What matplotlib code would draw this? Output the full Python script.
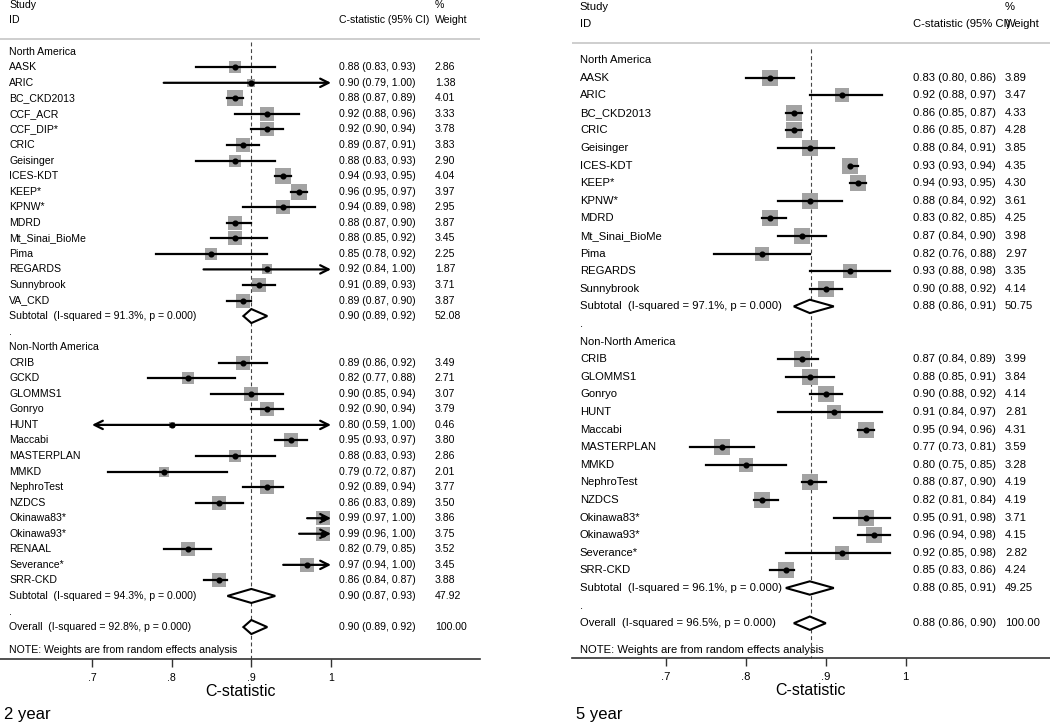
"""
Forest plots of C-statistic by study, 2 year and 5 year horizons.
"""

import matplotlib.pyplot as plt
from matplotlib.patches import Polygon

plt.rcParams["font.family"] = ["Liberation Sans", "DejaVu Sans"]

# ---- 2 year ----
na2_names = ["AASK", "ARIC", "BC_CKD2013", "CCF_ACR", "CCF_DIP*", "CRIC", "Geisinger",
             "ICES-KDT", "KEEP*", "KPNW*", "MDRD", "Mt_Sinai_BioMe", "Pima", "REGARDS",
             "Sunnybrook", "VA_CKD"]
na2_est = [0.88, 0.90, 0.88, 0.92, 0.92, 0.89, 0.88, 0.94, 0.96, 0.94, 0.88, 0.88, 0.85, 0.92, 0.91, 0.89]
na2_lo = [0.83, 0.79, 0.87, 0.88, 0.90, 0.87, 0.83, 0.93, 0.95, 0.89, 0.87, 0.85, 0.78, 0.84, 0.89, 0.87]
na2_hi = [0.93, 1.00, 0.89, 0.96, 0.94, 0.91, 0.93, 0.95, 0.97, 0.98, 0.90, 0.92, 0.92, 1.00, 0.93, 0.90]
na2_wt = [2.86, 1.38, 4.01, 3.33, 3.78, 3.83, 2.90, 4.04, 3.97, 2.95, 3.87, 3.45, 2.25, 1.87, 3.71, 3.87]

nn2_names = ["CRIB", "GCKD", "GLOMMS1", "Gonryo", "HUNT", "Maccabi", "MASTERPLAN", "MMKD",
             "NephroTest", "NZDCS", "Okinawa83*", "Okinawa93*", "RENAAL", "Severance*", "SRR-CKD"]
nn2_est = [0.89, 0.82, 0.90, 0.92, 0.80, 0.95, 0.88, 0.79, 0.92, 0.86, 0.99, 0.99, 0.82, 0.97, 0.86]
nn2_lo = [0.86, 0.77, 0.85, 0.90, 0.59, 0.93, 0.83, 0.72, 0.89, 0.83, 0.97, 0.96, 0.79, 0.94, 0.84]
nn2_hi = [0.92, 0.88, 0.94, 0.94, 1.00, 0.97, 0.93, 0.87, 0.94, 0.89, 1.00, 1.00, 0.85, 1.00, 0.87]
nn2_wt = [3.49, 2.71, 3.07, 3.79, 0.46, 3.80, 2.86, 2.01, 3.77, 3.50, 3.86, 3.75, 3.52, 3.45, 3.88]

sub2_est = [0.90, 0.90]
sub2_lo = [0.89, 0.87]
sub2_hi = [0.92, 0.93]
sub2_wt = [52.08, 47.92]
sub2_i2 = ["91.3%", "94.3%"]
all2 = [0.90, 0.89, 0.92, 100.00]
all2_i2 = "92.8%"
pooled2 = 0.90

# ---- 5 year ----
na5_names = ["AASK", "ARIC", "BC_CKD2013", "CRIC", "Geisinger", "ICES-KDT", "KEEP*", "KPNW*",
             "MDRD", "Mt_Sinai_BioMe", "Pima", "REGARDS", "Sunnybrook"]
na5_est = [0.83, 0.92, 0.86, 0.86, 0.88, 0.93, 0.94, 0.88, 0.83, 0.87, 0.82, 0.93, 0.90]
na5_lo = [0.80, 0.88, 0.85, 0.85, 0.84, 0.93, 0.93, 0.84, 0.82, 0.84, 0.76, 0.88, 0.88]
na5_hi = [0.86, 0.97, 0.87, 0.87, 0.91, 0.94, 0.95, 0.92, 0.85, 0.90, 0.88, 0.98, 0.92]
na5_wt = [3.89, 3.47, 4.33, 4.28, 3.85, 4.35, 4.30, 3.61, 4.25, 3.98, 2.97, 3.35, 4.14]

nn5_names = ["CRIB", "GLOMMS1", "Gonryo", "HUNT", "Maccabi", "MASTERPLAN", "MMKD", "NephroTest",
             "NZDCS", "Okinawa83*", "Okinawa93*", "Severance*", "SRR-CKD"]
nn5_est = [0.87, 0.88, 0.90, 0.91, 0.95, 0.77, 0.80, 0.88, 0.82, 0.95, 0.96, 0.92, 0.85]
nn5_lo = [0.84, 0.85, 0.88, 0.84, 0.94, 0.73, 0.75, 0.87, 0.81, 0.91, 0.94, 0.85, 0.83]
nn5_hi = [0.89, 0.91, 0.92, 0.97, 0.96, 0.81, 0.85, 0.90, 0.84, 0.98, 0.98, 0.98, 0.86]
nn5_wt = [3.99, 3.84, 4.14, 2.81, 4.31, 3.59, 3.28, 4.19, 4.19, 3.71, 4.15, 2.82, 4.24]

sub5_est = [0.88, 0.88]
sub5_lo = [0.86, 0.85]
sub5_hi = [0.91, 0.91]
sub5_wt = [50.75, 49.25]
sub5_i2 = ["97.1%", "96.1%"]
all5 = [0.88, 0.86, 0.90, 100.00]
all5_i2 = "96.5%"
pooled5 = 0.882

group_names = ["North America", "Non-North America"]
x_ticks = [0.7, 0.8, 0.9, 1.0]
x_tick_labels = [".7", ".8", ".9", "1"]

FIG_W, FIG_H = 1050, 723
AX_MIN, AX_MAX = 0.7, 1.0
SQUARE_GRAY = "#a3a3a3"


def _ci_text(est, lo, hi):
    return f"{est:.2f} ({lo:.2f}, {hi:.2f})"


def _diamond(ax, est, lo, hi, y, half_h):
    poly = Polygon([(lo, y), (est, y - half_h), (hi, y), (est, y + half_h)],
                   closed=True, facecolor="white", edgecolor="black", linewidth=1.5, zorder=3)
    ax.add_patch(poly)


def draw_panel(fig, geom, groups, subs, overall, overall_i2, pooled, caption):
    # pixel geometry -> axes placement and data limits
    px_per_unit = (geom["px_1"] - geom["px_07"]) / (AX_MAX - AX_MIN)
    x0 = AX_MIN - (geom["px_07"] - geom["left"]) / px_per_unit
    x1 = AX_MIN + (geom["right"] - geom["px_07"]) / px_per_unit
    y_bottom = (geom["bottom"] - geom["row0"]) / geom["step"]
    y_top = -geom["row0"] / geom["step"]

    ax = fig.add_axes([geom["left"] / FIG_W, 1 - geom["bottom"] / FIG_H,
                       (geom["right"] - geom["left"]) / FIG_W, geom["bottom"] / FIG_H])
    ax.set_xlim(x0, x1)
    ax.set_ylim(y_bottom, y_top)

    fs = geom["fs"]
    tr = ax.get_yaxis_transform()
    cx_name, cx_ci, cx_wt = geom["cols"]

    ax.text(cx_name, -3.0, "Study", transform=tr, fontsize=fs, va="center")
    ax.text(cx_name, -2.05, "ID", transform=tr, fontsize=fs, va="center")
    ax.text(cx_ci, -2.05, "C-statistic (95% CI)", transform=tr, fontsize=fs, va="center")
    ax.text(cx_wt, -3.0, "%", transform=tr, fontsize=fs, va="center")
    ax.text(cx_wt, -2.05, "Weight", transform=tr, fontsize=fs, va="center")
    ax.axhline(geom["hline"], color="#c6c6c6", linewidth=1.2)

    row = 0
    for gname, (names, est, lo, hi, wt), (s_est, s_lo, s_hi, s_wt, s_i2) in zip(group_names, groups, subs):
        ax.text(cx_name, row, gname, transform=tr, fontsize=fs, va="center")
        row += 1
        for n, e, l, h, w in zip(names, est, lo, hi, wt):
            ax.scatter([e], [row], s=geom["sq"] * w, marker="s", color=SQUARE_GRAY,
                       linewidths=0, zorder=2)
            left_clip = l < AX_MIN
            right_clip = h >= AX_MAX
            a, b = max(l, AX_MIN), min(h, AX_MAX)
            if left_clip or right_clip:
                style = "<->" if (left_clip and right_clip) else ("->" if right_clip else "<-")
                ax.annotate("", xy=(b, row), xytext=(a, row),
                            arrowprops=dict(arrowstyle=style + ",head_length=0.6,head_width=0.3",
                                            color="black", lw=1.6, shrinkA=0, shrinkB=0),
                            zorder=3)
            else:
                ax.plot([a, b], [row, row], color="black", linewidth=1.6, zorder=3)
            ax.plot([e], [row], marker="o", markersize=3.4, color="black", zorder=4)
            ax.text(cx_name, row, n, transform=tr, fontsize=fs, va="center")
            ax.text(cx_ci, row, _ci_text(e, l, h), transform=tr, fontsize=fs, va="center")
            ax.text(cx_wt, row, f"{w:.2f}", transform=tr, fontsize=fs, va="center")
            row += 1
        _diamond(ax, s_est, s_lo, s_hi, row, geom["dh"])
        ax.text(cx_name, row, f"Subtotal  (I-squared = {s_i2}, p = 0.000)", transform=tr,
                fontsize=fs, va="center")
        ax.text(cx_ci, row, _ci_text(s_est, s_lo, s_hi), transform=tr, fontsize=fs, va="center")
        ax.text(cx_wt, row, f"{s_wt:.2f}", transform=tr, fontsize=fs, va="center")
        row += 1
        ax.text(cx_name, row, ".", transform=tr, fontsize=fs, va="center")
        row += 1

    o_est, o_lo, o_hi, o_wt = overall
    _diamond(ax, o_est, o_lo, o_hi, row, geom["dh"])
    ax.text(cx_name, row, f"Overall  (I-squared = {overall_i2}, p = 0.000)", transform=tr,
            fontsize=fs, va="center")
    ax.text(cx_ci, row, _ci_text(o_est, o_lo, o_hi), transform=tr, fontsize=fs, va="center")
    ax.text(cx_wt, row, f"{o_wt:.2f}", transform=tr, fontsize=fs, va="center")
    ax.text(cx_name, row + 1.5, "NOTE: Weights are from random effects analysis", transform=tr,
            fontsize=fs, va="center")

    ax.plot([pooled, pooled], [-0.65, y_bottom], color="#444444", linewidth=0.8,
            linestyle=(0, (3.5, 2.5)), zorder=1, clip_on=False)

    for side in ["top", "left", "right"]:
        ax.spines[side].set_visible(False)
    ax.spines["bottom"].set_color("#333333")
    ax.spines["bottom"].set_linewidth(1.2)
    ax.set_yticks([])
    ax.set_xticks(x_ticks)
    ax.set_xticklabels(x_tick_labels)
    ax.tick_params(axis="x", direction="out", length=6, width=1, color="#333333",
                   labelsize=fs, pad=4)
    ax.set_xlabel("C-statistic", fontsize=11.5, labelpad=1)

    fig.text((geom["left"] + 4) / FIG_W, 1 - 715 / FIG_H, caption, fontsize=12, va="center")
    return ax


fig = plt.figure(figsize=(FIG_W / 100, FIG_H / 100), dpi=100)

geom_2y = dict(left=0, right=480, bottom=659, px_07=92, px_1=331, row0=51.7, step=15.55,
               fs=7.6, sq=30.0, dh=0.45, hline=-0.8, cols=(0.019, 0.706, 0.906))
geom_5y = dict(left=572, right=1050, bottom=658, px_07=666, px_1=905.7, row0=60, step=17.6,
               fs=8.1, sq=33.0, dh=0.38, hline=-0.97, cols=(0.0167, 0.713, 0.906))

draw_panel(
    fig, geom_2y,
    [(na2_names, na2_est, na2_lo, na2_hi, na2_wt), (nn2_names, nn2_est, nn2_lo, nn2_hi, nn2_wt)],
    list(zip(sub2_est, sub2_lo, sub2_hi, sub2_wt, sub2_i2)),
    all2, all2_i2, pooled2, "2 year",
)
draw_panel(
    fig, geom_5y,
    [(na5_names, na5_est, na5_lo, na5_hi, na5_wt), (nn5_names, nn5_est, nn5_lo, nn5_hi, nn5_wt)],
    list(zip(sub5_est, sub5_lo, sub5_hi, sub5_wt, sub5_i2)),
    all5, all5_i2, pooled5, "5 year",
)

fig.savefig("out.png", dpi=100)
plt.close(fig)
